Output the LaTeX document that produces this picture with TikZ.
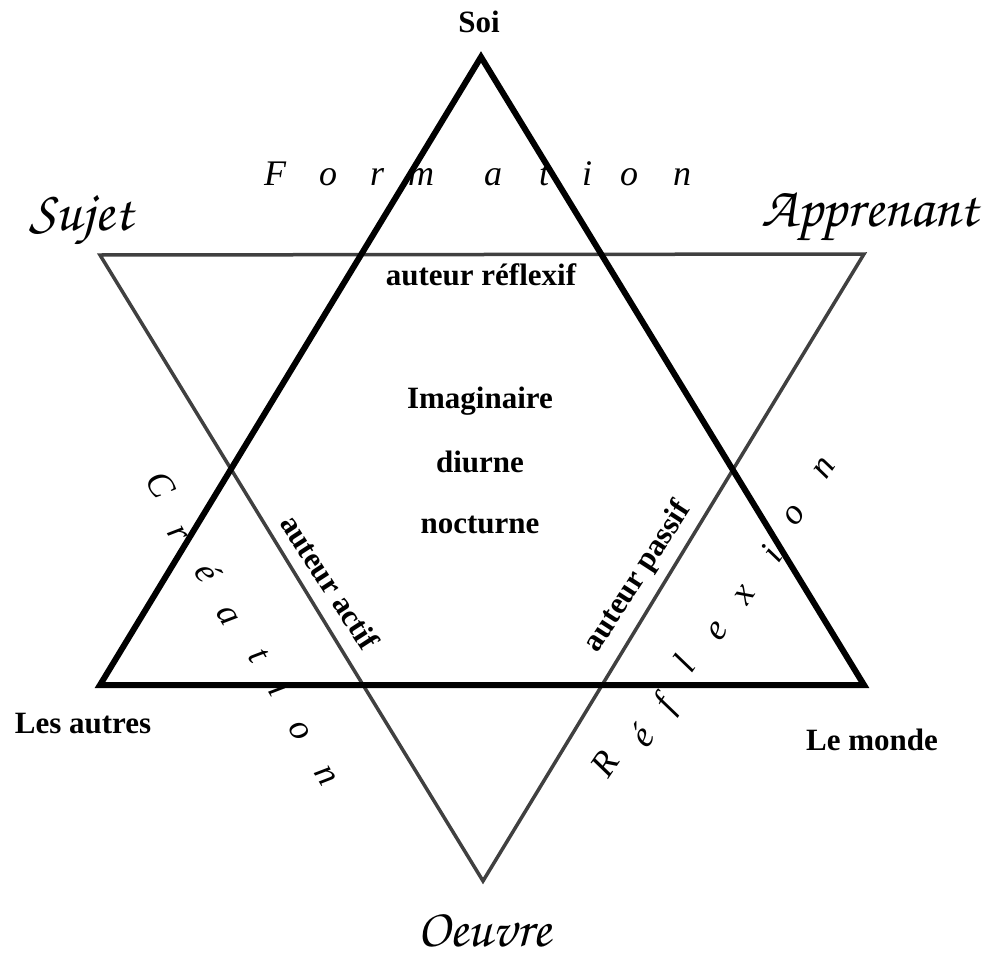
\documentclass[tikz,border=0pt]{standalone}
\usepackage[T1,TU]{fontenc}
\usepackage{fontspec}
\setmainfont{Liberation Serif}
\newcommand\chancfont{\usefont{T1}{pzc}{m}{it}}
\begin{document}
\begin{tikzpicture}[x=1pt,y=-1pt,
  lbl/.style={font=\fontsize{31}{36}\selectfont\bfseries, inner sep=0pt, anchor=base},
  spaced/.style={font=\fontsize{36}{40}\selectfont\itshape, inner sep=0pt, text height=0.9ex, text depth=0pt},
  callig/.style={font=\fontsize{57}{60}\chancfont, inner sep=0pt, anchor=base},
  uptri/.style={line width=6pt, line join=miter, black},
  downtri/.style={line width=3.5pt, line join=miter, black!75}]
\useasboundingbox (0,0) rectangle (990,958);
% vertices
\coordinate (U1) at (481,57);
\coordinate (U2) at (100,685);
\coordinate (U3) at (864,685);
\coordinate (D1) at (100,255);
\coordinate (D2) at (864,254);
\coordinate (D3) at (483,881);
% triangles
\draw[downtri] (D1) -- (D2) -- (D3) -- cycle;
\draw[uptri] (U1) -- (U2) -- (U3) -- cycle;
% corner labels
\node[lbl] (soi) at (479,33) {Soi};
\node[lbl] (autres) at (83,733) {Les autres};
\node[lbl] (monde) at (872,750) {Le monde};
\node[callig] (sujet) at (81,230) {Sujet};
\node[callig] (appr) at (870,226) {Apprenant};
\node[callig, font=\fontsize{54}{58}\chancfont] (oeuvre) at (484,946) {Oeuvre};
% inner labels
\node[lbl] (refl) at (481,285) {auteur réflexif};
\node[lbl] (imag) at (480,408) {Imaginaire};
\node[lbl] (diur) at (480,472) {diurne};
\node[lbl] (noct) at (480,533) {nocturne};
\node[lbl, anchor=center, rotate=-57] (actif) at (330,582) {auteur actif};
\node[lbl, anchor=center, rotate=57] (passif) at (638,577) {auteur passif};
% spaced words
\foreach \x/\l [count=\i] in {275/F,328/o,377/r,421/m,493/a,544/t,587/i,629/o,682/n}
  \node[spaced, anchor=base] (form\i) at (\x,185) {\l};
\foreach \x/\y/\l [count=\i] in {152/490/C,172/537/r,199/577/é,222/619/a,252/660/t,272/694/i,294/734/o,320/779/n}
  \node[spaced, rotate=-59] (crea\i) at (\x,\y) {\l};
\foreach \x/\y/\l [count=\i] in {613/769/R,650/742/é,673/709/f,693/669/l,723/635/e,750/599/x,780/559/i,800/519/o,830/472/n}
  \node[spaced, rotate=56] (refx\i) at (\x,\y) {\l};
\end{tikzpicture}
\end{document}
